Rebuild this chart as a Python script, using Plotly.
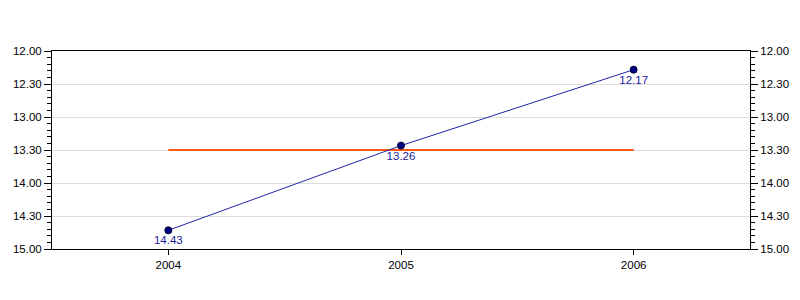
import plotly.graph_objects as go

years = ["2004", "2005", "2006"]
times = ["14.43", "13.26", "12.17"]  # minutes.seconds
target_time = "13.30"
ytick_labels = ["12.00", "12.30", "13.00", "13.30", "14.00", "14.30", "15.00"]


def to_minutes(s):
    m, sec = s.split(".")
    return int(m) + int(sec) / 60.0


yvals = [to_minutes(t) for t in times]
xnum = [int(y) for y in years]
target = to_minutes(target_time)
tickvals = [to_minutes(t) for t in ytick_labels]

FONT = "Liberation Sans, Arial"

fig = go.Figure()
fig.add_trace(go.Scatter(
    x=[xnum[0], xnum[-1]], y=[target, target], mode="lines",
    line=dict(color="#ff5a14", width=2), hoverinfo="skip", showlegend=False))
fig.add_trace(go.Scatter(
    x=xnum, y=yvals, mode="lines+markers+text",
    text=times, textposition="bottom center",
    textfont=dict(color="#1a1aa0", size=11.5, family=FONT),
    line=dict(color="#2222aa", width=1),
    marker=dict(color="#000080", size=7, line=dict(color="#000033", width=1)),
    showlegend=False))
fig.add_trace(go.Scatter(x=xnum, y=yvals, yaxis="y2", mode="markers",
                         marker=dict(opacity=0), hoverinfo="skip", showlegend=False))

yax = dict(
    range=[15, 12], tickvals=tickvals, ticktext=ytick_labels,
    ticks="outside", ticklen=7, tickcolor="black", tickwidth=1,
    showline=True, linecolor="black", linewidth=1,
    showgrid=True, gridcolor="#dddddd", gridwidth=1, zeroline=False,
    tickfont=dict(size=11.5, color="black", family=FONT),
    minor=dict(dtick=0.1, tick0=12, ticks="outside", ticklen=4, tickcolor="black", showgrid=False),
)
fig.update_layout(
    width=800, height=300,
    margin=dict(l=52, r=50, t=51, b=51),
    plot_bgcolor="white", paper_bgcolor="white",
    xaxis=dict(range=[2003.5, 2006.5], tickvals=xnum, ticktext=years,
               ticks="outside", ticklen=5, tickcolor="black",
               showline=True, linecolor="black", linewidth=1, mirror=True,
               showgrid=False, zeroline=False,
               tickfont=dict(size=11.5, color="black", family=FONT)),
    yaxis=yax,
    yaxis2=dict(yax, overlaying="y", side="right", showgrid=False),
)
fig.write_html("out.html")
